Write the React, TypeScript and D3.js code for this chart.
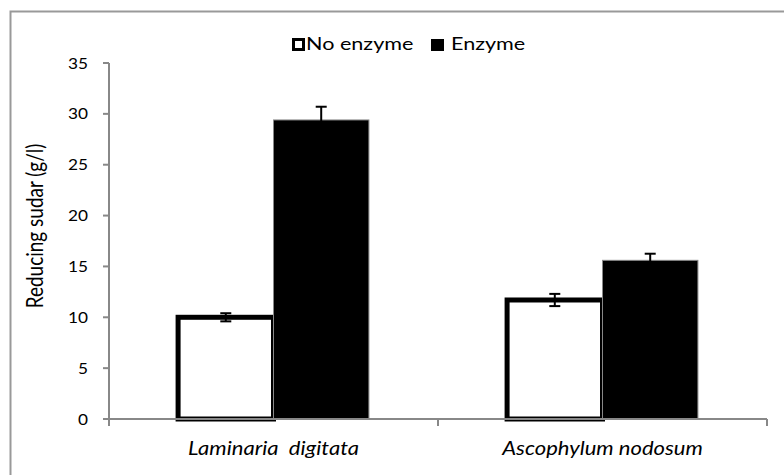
import React from 'react';
import * as d3 from 'd3';

const categories = ['Laminaria  digitata', 'Ascophylum nodosum'];
const seriesNames = ['No enzyme', 'Enzyme'];
const noEnzyme = [10.0, 11.7];
const noEnzymeErr = [0.4, 0.6];
const enzyme = [29.4, 15.6];
const enzymeErr = [1.3, 0.65];
const yTicks = [0, 5, 10, 15, 20, 25, 30, 35];

const W = 784;
const H = 475;
const FONT = 'Lato, "Open Sans", sans-serif';

// the source picture is a bit stretched sideways, so text is too
const SText = ({ x, y, sx = 1.17, anchor = 'start', size, italic = false, children }: any) => (
  <g transform={`translate(${x},${y}) scale(${sx},1)`}>
    <text textAnchor={anchor} fontSize={size} fontStyle={italic ? 'italic' : 'normal'} fill="#000"
      style={{ whiteSpace: 'pre' }}>{children}</text>
  </g>
);

const App = () => {
  const y = d3.scaleLinear().domain([0, 35]).range([419, 63]);
  const x = d3.scaleBand<string>().domain(categories).range([109, 767])
    .paddingInner(0.42).paddingOuter(0.21);
  const sub = d3.scaleBand<string>().domain(seriesNames).range([0, x.bandwidth()]);

  const rows = categories.map((c, i) => ({
    cat: c,
    bars: [
      { s: seriesNames[0], v: noEnzyme[i], e: noEnzymeErr[i] },
      { s: seriesNames[1], v: enzyme[i], e: enzymeErr[i] },
    ],
  }));

  const boundaries = [x.range()[0], ...categories.slice(1).map(c => (x(c)! - x.step() * x.paddingInner() / 2)), x.range()[1]];

  return (
    <svg width={W} height={H} style={{ position: 'absolute', left: 0, top: 0, background: '#fff' }} fontFamily={FONT}>
      {/* outer frame (right and bottom fall outside the picture) */}
      <rect x={10.5} y={11.5} width={W + 20} height={H + 20} fill="#fff" stroke="#999" strokeWidth={2} />

      {/* bars */}
      {rows.map(r => (
        <g key={r.cat} transform={`translate(${x(r.cat)},0)`}>
          <rect x={sub('No enzyme')} y={y(r.bars[0].v)} width={sub.bandwidth()}
            height={y(0) - y(r.bars[0].v)} fill="#fff" stroke="#000" strokeWidth={5} />
          <rect x={sub('Enzyme')} y={y(r.bars[1].v)} width={sub.bandwidth()}
            height={y(0) - y(r.bars[1].v)} fill="#000" stroke="#888" strokeWidth={1} />
          {r.bars.map(b => {
            const cx = sub(b.s)! + sub.bandwidth() / 2;
            const cw = 5.5;
            return (
              <g key={b.s} stroke="#000" strokeWidth={2}>
                <line x1={cx} x2={cx} y1={y(b.v + b.e)} y2={y(b.v - b.e)} />
                <line x1={cx - cw} x2={cx + cw} y1={y(b.v + b.e)} y2={y(b.v + b.e)} />
                <line x1={cx - cw} x2={cx + cw} y1={y(b.v - b.e)} y2={y(b.v - b.e)} />
              </g>
            );
          })}
        </g>
      ))}

      {/* axes */}
      <g stroke="#888" strokeWidth={2}>
        <line x1={109} x2={109} y1={y(35)} y2={y(0) + 7} />
        {yTicks.map(t => (
          <line key={t} x1={103} x2={109} y1={y(t)} y2={y(t)} />
        ))}
        <line x1={103} x2={x.range()[1]} y1={y(0)} y2={y(0)} />
        {boundaries.map((b, i) => (
          <line key={i} x1={b} x2={b} y1={y(0)} y2={y(0) + 7} />
        ))}
      </g>
      {yTicks.map(t => (
        <SText key={t} x={88} y={y(t) + 5.5} anchor="end" size={15} sx={1.15}>{t}</SText>
      ))}
      <g transform="translate(43,226) scale(1.17,1) rotate(-90)">
        <text textAnchor="middle" fontSize={19} fill="#000">Reducing sudar (g/l)</text>
      </g>

      {/* category labels */}
      {categories.map(c => (
        <SText key={c} x={x(c)! + x.bandwidth() / 2} y={455} anchor="middle" size={19.5} sx={1.13} italic>{c}</SText>
      ))}

      {/* legend */}
      <rect x={293.5} y={39.5} width={10} height={10} fill="#fff" stroke="#000" strokeWidth={3} />
      <SText x={306} y={50} size={18} sx={1.2}>No enzyme</SText>
      <rect x={431} y={39} width={13} height={12} fill="#000" />
      <SText x={451} y={50} size={18} sx={1.2}>Enzyme</SText>
    </svg>
  );
};

export default App;
